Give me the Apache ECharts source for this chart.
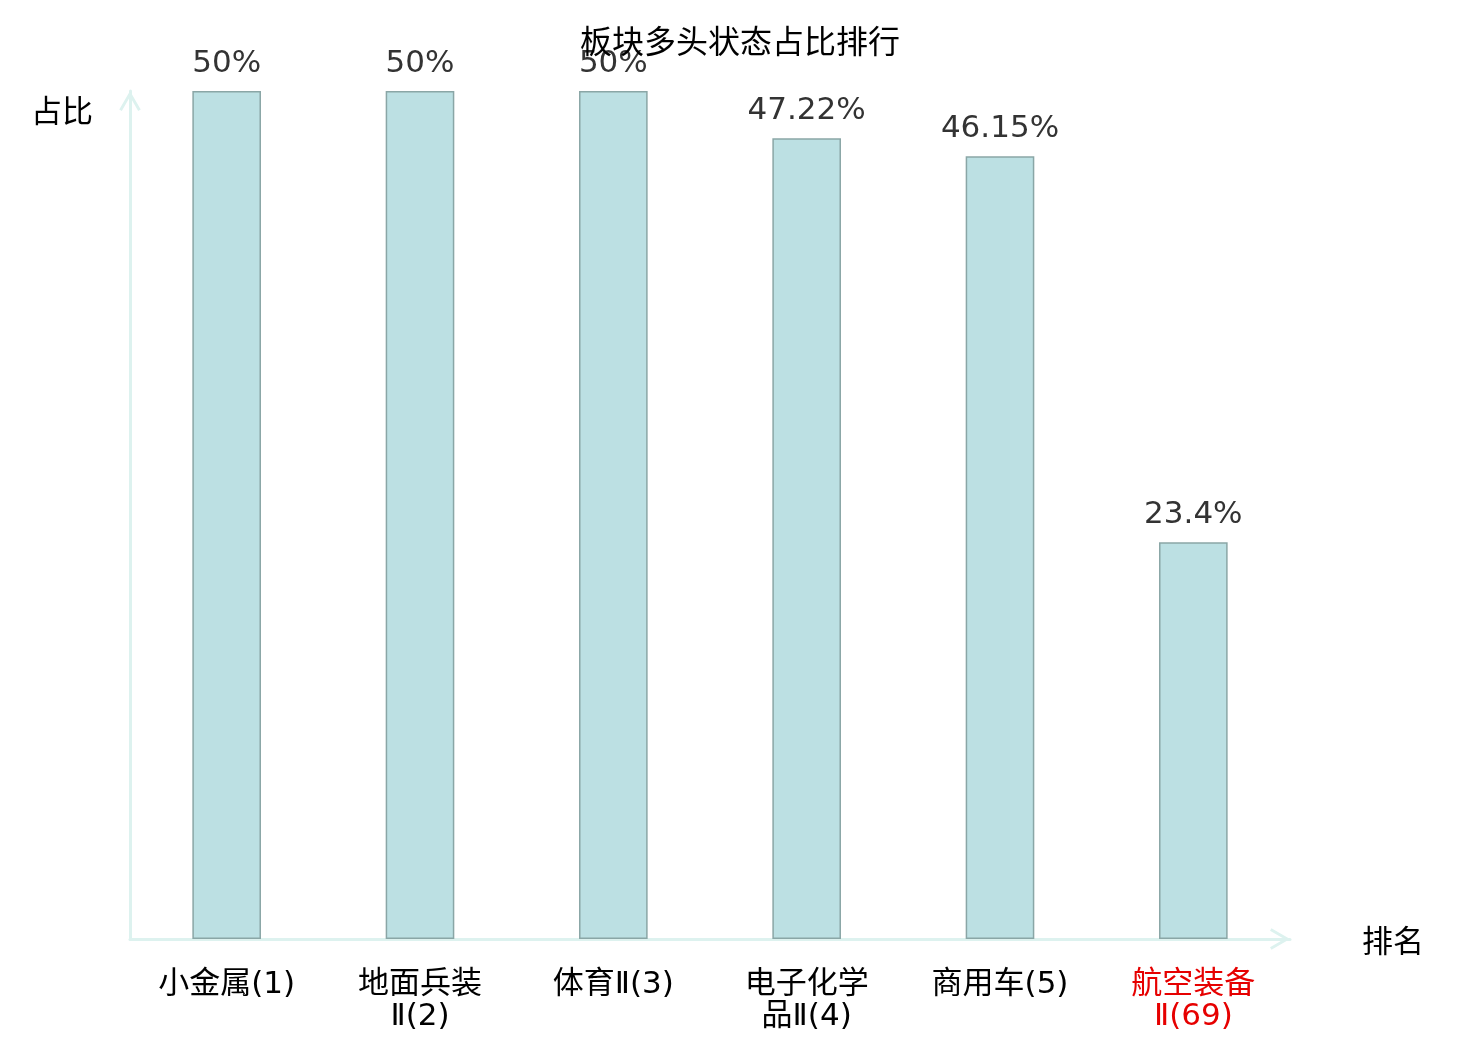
<!DOCTYPE html>
<html>
<head>
<meta charset="utf-8">
<script src="https://cdn.jsdelivr.net/npm/echarts@6/dist/echarts.min.js"></script>
<style>
html,body{margin:0;padding:0;background:#fff;}
#chart{width:1480px;height:1040px;}
</style>
</head>
<body>
<div id="chart"></div>
<script>
const titleText = '板块多头状态占比排行';
const categories = ['小金属(1)', '地面兵装Ⅱ(2)', '体育Ⅱ(3)', '电子化学品Ⅱ(4)', '商用车(5)', '航空装备Ⅱ(69)'];
const ratios = [50, 50, 50, 47.22, 46.15, 23.4];
const highlightCategory = '航空装备Ⅱ(69)';
const yName = '占比';
const xName = '排名';

const FONT = '"DejaVu Sans", "Noto Sans CJK SC", sans-serif';
const axisColor = '#ddf2ef';
const chevron = 'path://M0,19 L11,0 L22,19 L19.4,20.5 L11,5.8 L2.6,20.5 Z';

const chart = echarts.init(document.getElementById('chart'));
chart.setOption({
  animation: false,
  backgroundColor: '#fff',
  title: {
    text: titleText,
    left: 'center',
    top: 24,
    textStyle: { fontSize: 32, fontWeight: 'normal', color: '#000', fontFamily: FONT }
  },
  grid: { left: 130, right: 190, top: 91, bottom: 101 },
  xAxis: {
    type: 'category',
    data: categories,
    name: '{n|' + xName + '}',
    nameLocation: 'end',
    nameGap: 72,
    nameTextStyle: {
      fontSize: 31, color: '#000', fontFamily: FONT,
      rich: { n: { fontSize: 31, color: '#000', fontFamily: FONT, padding: [10, 0, 0, 0] } }
    },
    axisLine: {
      show: true,
      lineStyle: { color: axisColor, width: 3 },
      symbol: ['none', chevron],
      symbolSize: [22, 20],
      symbolOffset: [0, -10]
    },
    axisTick: { show: false },
    axisLabel: {
      interval: 0,
      margin: 30,
      fontSize: 31,
      lineHeight: 32,
      fontFamily: FONT,
      color: function (v) { return v === highlightCategory ? '#e60000' : '#000'; },
      formatter: function (v) { return v.length > 6 ? v.slice(0, 4) + '\n' + v.slice(4) : v; }
    }
  },
  yAxis: {
    type: 'value',
    min: 0,
    max: 50,
    name: yName,
    nameLocation: 'end',
    nameGap: -23,
    nameTextStyle: { fontSize: 31, color: '#000', fontFamily: FONT, align: 'right', verticalAlign: 'middle', padding: [0, 37, 0, 0] },
    axisLine: {
      show: true,
      lineStyle: { color: axisColor, width: 3 },
      symbol: ['none', chevron],
      symbolSize: [22, 20],
      symbolOffset: [0, -10]
    },
    axisTick: { show: false },
    axisLabel: { show: false },
    splitLine: { show: false }
  },
  series: [{
    type: 'bar',
    data: ratios,
    barWidth: '35.5%',
    itemStyle: { color: '#bce0e3', borderColor: '#8aa6a6', borderWidth: 1.5 },
    label: {
      show: true,
      position: 'top',
      distance: 12,
      fontSize: 31,
      color: '#333',
      fontFamily: FONT,
      formatter: function (p) { return p.value + '%'; }
    }
  }]
});
</script>
</body>
</html>
